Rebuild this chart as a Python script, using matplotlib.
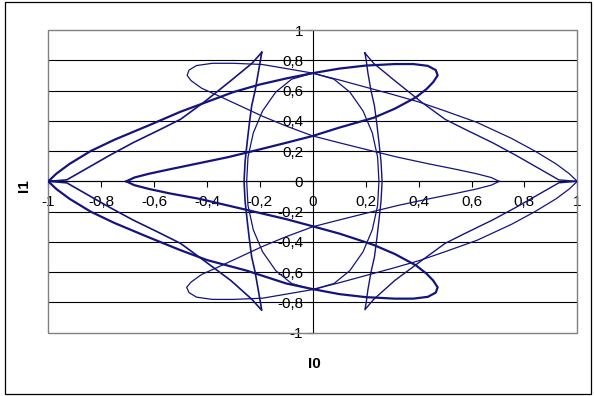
import matplotlib
matplotlib.use('Agg')
import matplotlib.pyplot as plt
from matplotlib.patches import Rectangle

plt.rcParams['font.family'] = ['Liberation Sans Narrow', 'Liberation Sans', 'DejaVu Sans']

# ---- data: I0 (x) / I1 (y) trajectory, split into branches ----
# heavy trace: left point -> top -> right upper loop -> centre -> inner left turn
heavy_upper = [(-1.00, 0.00), (-0.97, 0.05), (-0.92, 0.115), (-0.84, 0.20), (-0.75, 0.275),
               (-0.62, 0.37), (-0.50, 0.46), (-0.40, 0.525), (-0.30, 0.59), (-0.20, 0.64),
               (-0.10, 0.68), (0.00, 0.715), (0.10, 0.745), (0.20, 0.765), (0.31, 0.775),
               (0.38, 0.775), (0.435, 0.763), (0.465, 0.735), (0.472, 0.70), (0.455, 0.655),
               (0.43, 0.61), (0.39, 0.555), (0.31, 0.48), (0.23, 0.42), (0.10, 0.355),
               (0.00, 0.30), (-0.10, 0.255), (-0.21, 0.207), (-0.32, 0.16), (-0.43, 0.12),
               (-0.54, 0.08), (-0.62, 0.05), (-0.675, 0.025), (-0.705, 0.00)]
# heavy trace back: inner left turn -> centre -> right lower loop -> bottom -> left point
heavy_lower = [(-0.705, 0.00), (-0.675, -0.025), (-0.62, -0.05), (-0.54, -0.08), (-0.43, -0.115),
               (-0.32, -0.16), (-0.21, -0.205), (-0.10, -0.25), (0.00, -0.297), (0.10, -0.345),
               (0.17, -0.385), (0.23, -0.42), (0.31, -0.48), (0.39, -0.555), (0.43, -0.61),
               (0.455, -0.655), (0.472, -0.70), (0.465, -0.735), (0.435, -0.763), (0.38, -0.775),
               (0.31, -0.775), (0.20, -0.765), (0.10, -0.745), (0.00, -0.712), (-0.10, -0.675),
               (-0.25, -0.59), (-0.40, -0.52), (-0.50, -0.455), (-0.62, -0.37), (-0.75, -0.275),
               (-0.84, -0.20), (-0.92, -0.115), (-0.97, -0.05), (-1.00, 0.00)]
# light trace: right point -> top -> left upper loop -> centre -> inner right turn
light_upper = [(1.00, 0.00), (0.97, 0.05), (0.92, 0.115), (0.84, 0.20), (0.75, 0.285),
               (0.62, 0.39), (0.50, 0.465), (0.40, 0.525), (0.30, 0.575), (0.226, 0.61),
               (0.10, 0.67), (0.00, 0.715), (-0.10, 0.745), (-0.19, 0.772), (-0.30, 0.78),
               (-0.38, 0.78), (-0.44, 0.765), (-0.468, 0.735), (-0.475, 0.70), (-0.46, 0.665),
               (-0.42, 0.615), (-0.35, 0.56), (-0.27, 0.495), (-0.19, 0.43), (-0.10, 0.365),
               (0.00, 0.30), (0.10, 0.255), (0.21, 0.207), (0.32, 0.16), (0.44, 0.115),
               (0.54, 0.08), (0.62, 0.05), (0.675, 0.025), (0.705, 0.00)]
light_lower = [(0.705, 0.00), (0.675, -0.025), (0.62, -0.05), (0.54, -0.08), (0.44, -0.115),
               (0.32, -0.16), (0.21, -0.207), (0.10, -0.255), (0.00, -0.30), (-0.10, -0.365),
               (-0.19, -0.43), (-0.27, -0.495), (-0.35, -0.56), (-0.42, -0.615), (-0.46, -0.665),
               (-0.477, -0.70), (-0.468, -0.735), (-0.44, -0.765), (-0.38, -0.78), (-0.30, -0.78),
               (-0.19, -0.772), (-0.10, -0.745), (0.00, -0.715), (0.10, -0.67), (0.226, -0.61),
               (0.30, -0.575), (0.40, -0.525), (0.50, -0.465), (0.62, -0.39), (0.75, -0.285),
               (0.84, -0.20), (0.92, -0.115), (0.97, -0.05), (1.00, 0.00)]
# peaks on the left: top peak -> down near I0=-0.25 -> bottom peak -> back via left point
peaks_left = [(-0.193, 0.852), (-0.198, 0.80), (-0.206, 0.72), (-0.218, 0.60), (-0.231, 0.50),
              (-0.240, 0.38), (-0.248, 0.26), (-0.256, 0.13), (-0.260, 0.00), (-0.256, -0.13),
              (-0.248, -0.26), (-0.240, -0.38), (-0.231, -0.50), (-0.218, -0.60), (-0.206, -0.72),
              (-0.198, -0.80), (-0.193, -0.852), (-0.23, -0.78), (-0.31, -0.655), (-0.41, -0.525),
              (-0.50, -0.41), (-0.58, -0.34), (-0.68, -0.255), (-0.77, -0.17), (-0.86, -0.08),
              (-0.93, -0.01), (-0.97, -0.004), (-1.00, 0.00), (-0.97, 0.004), (-0.93, 0.01),
              (-0.86, 0.08), (-0.77, 0.17), (-0.68, 0.255), (-0.58, 0.34), (-0.50, 0.41),
              (-0.41, 0.525), (-0.31, 0.665), (-0.23, 0.78), (-0.193, 0.852)]
peaks_right = [(0.197, 0.848), (0.202, 0.80), (0.208, 0.72), (0.220, 0.60), (0.233, 0.50),
               (0.242, 0.38), (0.250, 0.26), (0.258, 0.13), (0.262, 0.00), (0.258, -0.13),
               (0.250, -0.26), (0.242, -0.38), (0.233, -0.50), (0.220, -0.60), (0.208, -0.72),
               (0.202, -0.80), (0.197, -0.848), (0.23, -0.78), (0.31, -0.655), (0.41, -0.525),
               (0.50, -0.41), (0.58, -0.34), (0.68, -0.255), (0.77, -0.17), (0.86, -0.08),
               (0.93, -0.01), (0.97, -0.004), (1.00, 0.00), (0.97, 0.004), (0.93, 0.01),
               (0.86, 0.08), (0.77, 0.17), (0.68, 0.255), (0.58, 0.34), (0.50, 0.41),
               (0.41, 0.525), (0.31, 0.665), (0.23, 0.78), (0.197, 0.848)]
# inner oval through (0, +-0.715) and (+-0.25, 0)
oval = [(0.00, 0.715), (-0.08, 0.675), (-0.14, 0.59), (-0.19, 0.465), (-0.225, 0.32),
        (-0.245, 0.16), (-0.25, 0.00), (-0.245, -0.16), (-0.225, -0.32), (-0.19, -0.465),
        (-0.14, -0.59), (-0.08, -0.675), (0.00, -0.715), (0.08, -0.675), (0.14, -0.59),
        (0.19, -0.465), (0.225, -0.32), (0.245, -0.16), (0.25, 0.00), (0.245, 0.16),
        (0.225, 0.32), (0.19, 0.465), (0.14, 0.59), (0.08, 0.675), (0.00, 0.715)]

ticks = [-1, -0.8, -0.6, -0.4, -0.2, 0, 0.2, 0.4, 0.6, 0.8, 1]
tick_labels = ['-1', '-0,8', '-0,6', '-0,4', '-0,2', '0', '0,2', '0,4', '0,6', '0,8', '1']

W, H = 594, 396
fig = plt.figure(figsize=(W / 100, H / 100), dpi=100)
# chart area frame
fig.patches.append(Rectangle((5 / W, 2 / H), 586 / W, 392 / H, transform=fig.transFigure,
                             fill=False, ec='black', lw=0.9))

ax = fig.add_axes([48.3 / W, 63.3 / H, 529 / W, 302.7 / H])
ax.set_xlim(-1, 1)
ax.set_ylim(-1, 1)

# horizontal gridlines
for v in ticks[1:-1]:
    ax.axhline(v, color='black', lw=0.8, zorder=1)
# grey plot-area border
ax.add_patch(Rectangle((0, 0), 1, 1, transform=ax.transAxes, fill=False, ec='#808080',
                       lw=1.0, zorder=2, clip_on=False))

for s in ('top', 'right'):
    ax.spines[s].set_visible(False)
ax.spines['left'].set_position(('data', 0))
ax.spines['bottom'].set_position(('data', 0))
for s in ('left', 'bottom'):
    ax.spines[s].set_color('black')
    ax.spines[s].set_linewidth(0.8)
    ax.spines[s].set_zorder(1.5)

ax.set_xticks(ticks)
ax.set_xticklabels(tick_labels)
ax.set_yticks(ticks)
ax.set_yticklabels(tick_labels)
ax.tick_params(axis='x', direction='out', length=4, width=0.8, pad=6, labelsize=11)
ax.tick_params(axis='y', direction='out', length=4, width=0.8, pad=3, labelsize=11)

line_color = '#14147f'
for branch, lw in [(heavy_upper, 1.6), (heavy_lower, 1.6), (light_upper, 0.9),
                   (light_lower, 0.9), (peaks_left, 1.2), (peaks_right, 1.0), (oval, 0.9)]:
    xs = [p[0] for p in branch]
    ys = [p[1] for p in branch]
    ax.plot(xs, ys, color=line_color, lw=lw, solid_joinstyle='round', zorder=3)

fig.text(314 / W, 1 - 363.5 / H, 'I0', fontsize=11, fontweight='bold', ha='center', va='center')
fig.text(24 / W, 1 - 186 / H, 'I1', fontsize=11, fontweight='bold', ha='center', va='center',
         rotation=90)

fig.savefig('out.png', dpi=100)
